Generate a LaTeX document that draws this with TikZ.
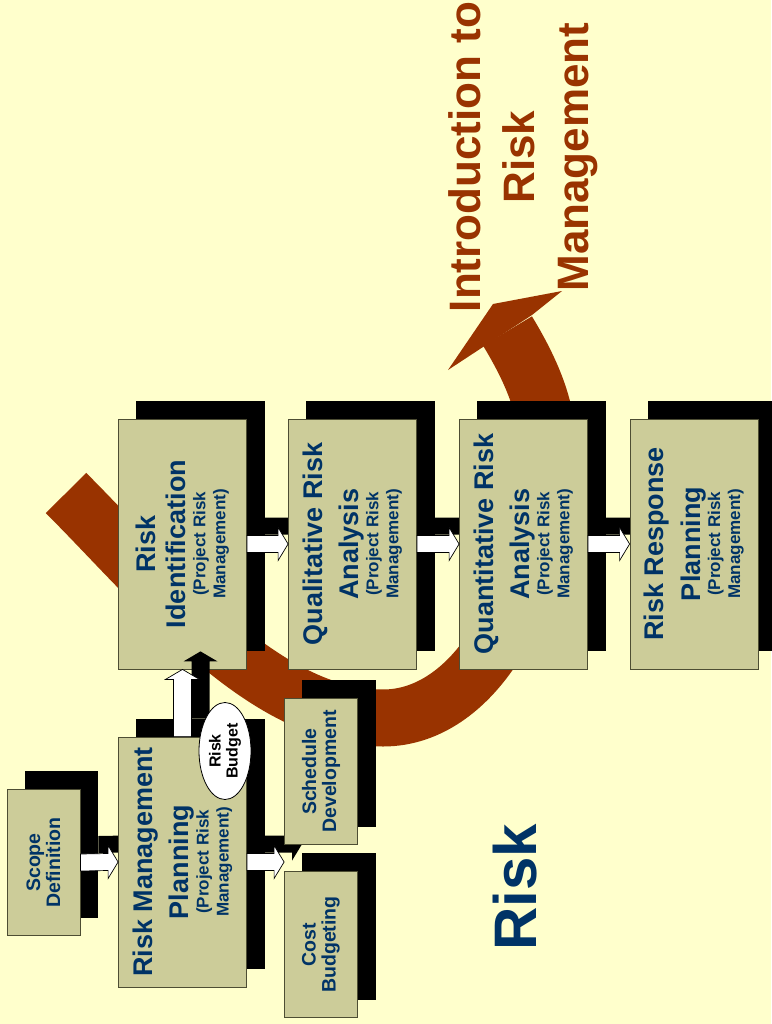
\documentclass[tikz,border=0pt]{standalone}
\usepackage{fontspec}
\setmainfont{Liberation Sans}
\usetikzlibrary{calc,shapes.geometric}

\definecolor{paper}{HTML}{FFFFCC}
\definecolor{khaki}{HTML}{CCCC99}
\definecolor{navy}{HTML}{003366}
\definecolor{rust}{HTML}{993300}
\definecolor{edge}{HTML}{4D4D33}

\newcommand{\headfont}{\fontsize{27}{20}\selectfont}

\pgfdeclarelayer{back}
\pgfsetlayers{back,main}

\tikzset{
  lift/.style={transform canvas={shift={(18,-18)}}},
  hflow/.style={to path={($(\tikztostart)+(0,-8.5)$) -- ($(\tikztotarget)+(-10,-8.5)$)
    -- ($(\tikztotarget)+(-10,-16.5)$) -- (\tikztotarget) -- ($(\tikztotarget)+(-10,16.5)$)
    -- ($(\tikztotarget)+(-10,8.5)$) -- ($(\tikztostart)+(0,8.5)$) -- cycle}},
  vflow/.style={to path={($(\tikztostart)+(-9,0)$) -- ($(\tikztotarget)+(-9,10)$)
    -- ($(\tikztotarget)+(-17,10)$) -- (\tikztotarget) -- ($(\tikztotarget)+(17,10)$)
    -- ($(\tikztotarget)+(9,10)$) -- ($(\tikztostart)+(9,0)$) -- cycle}},
  flow/.style={draw=black,fill=white,line width=0.7pt}
}

\begin{document}
\begin{tikzpicture}[x=1pt,y=-1pt,
  stage/.style={rotate=90,draw=edge,line width=0.8pt,fill=khaki,text=navy,align=center,
    minimum width=250pt,minimum height=128pt,inner sep=0pt,
    font=\bfseries\fontsize{17}{20}\selectfont},
  task/.style={stage,minimum width=146pt,minimum height=73pt,
    font=\bfseries\fontsize{19.5}{20}\selectfont},
  budget/.style={ellipse,draw=black,line width=0.8pt,fill=white,rotate=90,align=center,
    minimum width=97pt,minimum height=52pt,inner sep=0pt,
    font=\bfseries\fontsize{16}{17}\selectfont}]

\useasboundingbox (0,0) rectangle (771,1024);

% boxes, pixel positions of the slide
\node[task] (sd) at (43.5,862.5) {Scope\\Definition};
\node[stage] (rmp) at (182.5,862) {{\headfont Risk Management}\\[10pt]{\headfont Planning}\\(Project Risk\\Management)};
\node[task] (sched) at (321,771.5) {Schedule\\Development};
\node[task] (cost) at (321,944.5) {Cost\\Budgeting};
\node[stage] (ri) at (182.5,544) {{\headfont Risk}\\[10pt]{\headfont Identification}\\(Project Risk\\Management)};
\node[stage] (qual) at (352.5,544) {{\headfont Qualitative Risk}\\[10pt]{\headfont Analysis}\\(Project Risk\\Management)};
\node[stage] (quant) at (523.5,544) {{\headfont Quantitative Risk}\\[10pt]{\headfont Analysis}\\(Project Risk\\Management)};
\node[stage] (rr) at (694,544) {{\headfont Risk Response}\\[10pt]{\headfont Planning}\\(Project Risk\\Management)};
\coordinate (fork) at (rmp.south -| sched.north);

\node[rotate=90,text=rust,align=center,font=\bfseries\fontsize{44}{54}\selectfont] (intro) at (523,157) {Introduction to\\Risk\\Management};
\node[rotate=90,text=navy,font=\bfseries\fontsize{60}{60}\selectfont] (risk) at (515,887) {Risk};

\begin{pgfonlayer}{back}
  \fill[paper] (0,0) rectangle (771,1024);
  % big curved arrow
  \draw[rust,line width=57pt] (66,493) .. controls (158,585) and (263,718) .. (383,718)
    .. controls (478,718) and (548,590) .. (547,440)
    .. controls (546,400) and (525,360) .. (507.5,331);
  \fill[rust] (483,347) -- (448,370) -- (493,304) -- (562,291) -- (532,315) -- cycle;
  % shadows
  \foreach \n in {sd,rmp,sched,cost,ri,qual,quant,rr}
    \fill[black] ([shift={(18,-18)}]\n.south west) rectangle ([shift={(18,-18)}]\n.north east);
  \fill[black,lift] (sd.south) to[hflow] (rmp.north);
  \fill[black,lift] (rmp.south) to[hflow] (fork);
  \fill[black,lift] (ri.south) to[hflow] (qual.north);
  \fill[black,lift] (qual.south) to[hflow] (quant.north);
  \fill[black,lift] (quant.south) to[hflow] (rr.north);
\end{pgfonlayer}

\draw[flow] (sd.south) to[hflow] (rmp.north);
\draw[flow] (rmp.south) to[hflow] (fork);
\draw[flow] (ri.south) to[hflow] (qual.north);
\draw[flow] (qual.south) to[hflow] (quant.north);
\draw[flow] (quant.south) to[hflow] (rr.north);
\fill[black,lift] (rmp.east) to[vflow] (ri.west);
\draw[flow] (rmp.east) to[vflow] (ri.west);

\node[budget] (rb) at (225,751) {Risk\\Budget};

\end{tikzpicture}
\end{document}
